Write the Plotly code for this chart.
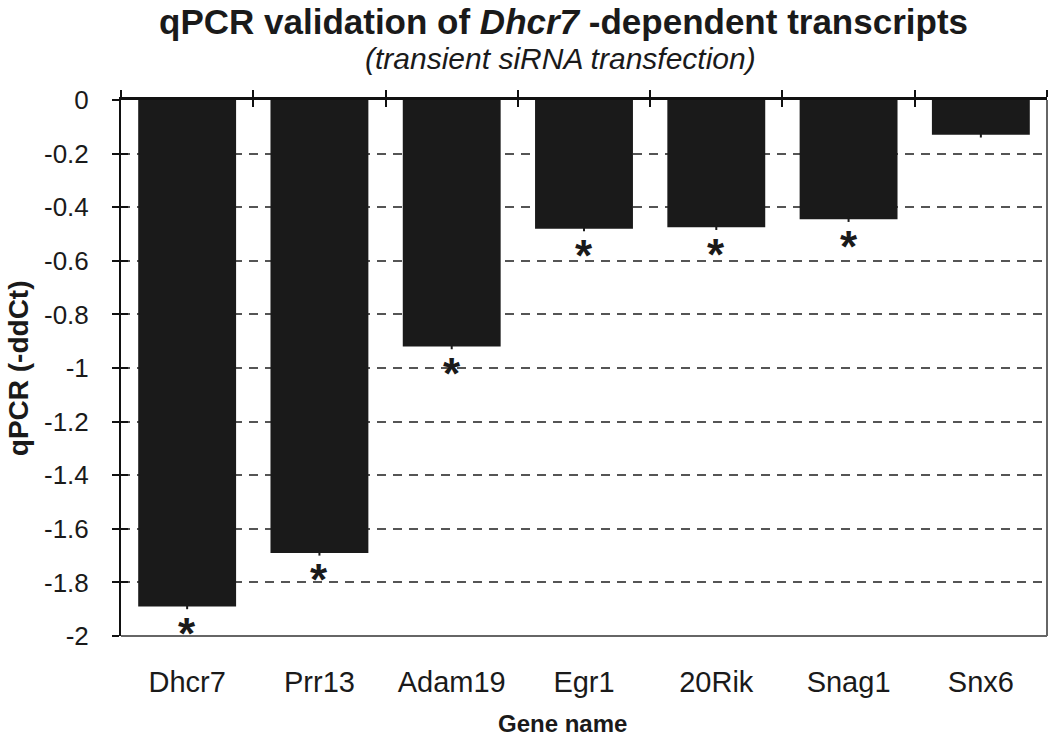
import plotly.graph_objects as go

categories = ["Dhcr7", "Prr13", "Adam19", "Egr1", "20Rik", "Snag1", "Snx6"]
values = [-1.89, -1.69, -0.92, -0.48, -0.475, -0.445, -0.13]
errors = [0.01, 0.01, 0.01, 0.01, 0.01, 0.01, 0.01]
significant = [True, True, True, True, True, True, False]
y_ticks = [0, -0.2, -0.4, -0.6, -0.8, -1.0, -1.2, -1.4, -1.6, -1.8, -2.0]
y_ticktext = ["0", "-0.2", "-0.4", "-0.6", "-0.8", "-1", "-1.2", "-1.4", "-1.6", "-1.8", "-2"]

FONT = "Liberation Sans, Arial, sans-serif"
n = len(categories)
boundaries = [i - 0.5 for i in range(n + 1)]

fig = go.Figure()
fig.add_trace(go.Bar(
    x=categories, y=values,
    marker=dict(color="#1a1a1a", line=dict(width=0)),
    error_y=dict(type="data", array=errors, visible=True, color="#1a1a1a", thickness=2, width=0),
    showlegend=False,
))
# helper invisible traces so overlay axes render
fig.add_trace(go.Scatter(x=[-0.5, n - 0.5], y=[0, 0], xaxis="x2", yaxis="y2",
                         mode="markers", marker=dict(opacity=0), showlegend=False, hoverinfo="skip"))
fig.add_trace(go.Scatter(x=[-0.5, n - 0.5], y=[0, 0], xaxis="x3", yaxis="y",
                         mode="markers", marker=dict(opacity=0), showlegend=False, hoverinfo="skip"))

annotations = []
for c, v, s in zip(categories, values, significant):
    if s:
        annotations.append(dict(x=c, y=v, xref="x", yref="y", text="<b>*</b>", showarrow=False,
                                yanchor="middle", yshift=-27,
                                font=dict(family=FONT, size=44, color="#1a1a1a")))

annotations += [
    dict(text="<b>qPCR validation of <i>Dhcr7</i> -dependent transcripts</b>", xref="paper", yref="paper",
         x=0.478, y=1.1866, xanchor="center", yanchor="top", showarrow=False,
         font=dict(family=FONT, size=35, color="#1a1a1a")),
    dict(text="<i>(transient siRNA transfection)</i>", xref="paper", yref="paper",
         x=0.475, y=1.077, xanchor="center", yanchor="middle", showarrow=False,
         font=dict(family=FONT, size=30, color="#1a1a1a")),
    dict(text="<b>Gene name</b>", xref="paper", yref="paper",
         x=0.477, y=-0.164, xanchor="center", yanchor="middle", showarrow=False,
         font=dict(family=FONT, size=24, color="#1a1a1a")),
    dict(text="<b>qPCR (-ddCt)</b>", xref="paper", yref="paper", textangle=-90,
         x=-0.111, y=0.5, xanchor="center", yanchor="middle", showarrow=False,
         font=dict(family=FONT, size=28, color="#1a1a1a")),
]

fig.update_layout(
    width=1050, height=744,
    margin=dict(l=121, r=3, t=100, b=108, autoexpand=False),
    paper_bgcolor="white", plot_bgcolor="white",
    bargap=0.26,
    font=dict(family=FONT, color="#1a1a1a"),
    annotations=annotations,
    xaxis=dict(type="category", categoryorder="array", categoryarray=categories, automargin=False,
               range=[-0.5, n - 0.5], showline=False, ticks="", showgrid=False, zeroline=False,
               ticklabelstandoff=26, tickfont=dict(family=FONT, size=29, color="#1a1a1a")),
    xaxis2=dict(overlaying="x", side="top", anchor="y", range=[-0.5, n - 0.5], automargin=False,
                showline=True, linecolor="#111", linewidth=2.5, mirror=False,
                tickmode="array", tickvals=boundaries, ticks="outside", ticklen=7, tickwidth=2,
                tickcolor="#111", showticklabels=False, showgrid=False, zeroline=False),
    xaxis3=dict(overlaying="x", side="top", anchor="y", range=[-0.5, n - 0.5], automargin=False,
                showline=False, tickmode="array", tickvals=boundaries, ticks="inside", ticklen=7,
                tickwidth=2, tickcolor="#111", showticklabels=False, showgrid=False, zeroline=False),
    yaxis=dict(range=[-2, 0], tickmode="array", tickvals=y_ticks, ticktext=y_ticktext, automargin=False,
               showline=True, linecolor="#111", linewidth=2, ticks="outside", ticklen=7, tickwidth=1.5,
               tickcolor="#111", showgrid=True, gridcolor="#555", gridwidth=1.5, griddash="9px,7px",
               zeroline=False, ticklabelstandoff=18,
               tickfont=dict(family=FONT, size=26, color="#1a1a1a")),
    yaxis2=dict(overlaying="y", side="left", anchor="x2", range=[-2, 0], tickmode="array", tickvals=y_ticks,
                automargin=False,
                ticks="inside", ticklen=7, tickwidth=1.5, tickcolor="#111", showticklabels=False,
                showgrid=False, zeroline=False, showline=False),
    shapes=[
        dict(type="line", xref="paper", yref="paper", x0=1, x1=1, y0=0, y1=1,
             line=dict(color="#666", width=2)),
        dict(type="line", xref="paper", yref="paper", x0=0, x1=1, y0=0, y1=0,
             line=dict(color="#666", width=2)),
    ],
)

fig.write_html("out.html", config={"displayModeBar": False},
               post_script="document.body.style.margin='0';")
